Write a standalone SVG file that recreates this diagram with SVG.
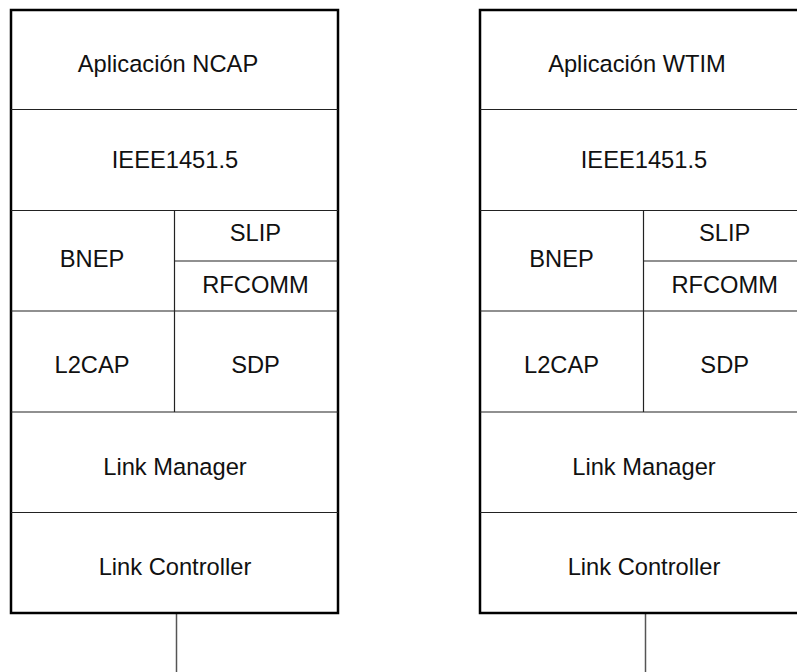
<svg xmlns="http://www.w3.org/2000/svg" width="797" height="672" viewBox="0 0 797 672">
<style>
.outer{fill:#fff;stroke:#000;stroke-width:2.5}
.div{stroke:#222;stroke-width:1.2;fill:none}
.lbl{font-family:"Liberation Sans",Arial,sans-serif;font-size:23.7px;fill:#111;text-anchor:middle}
.conn{stroke:#555;stroke-width:1.5;fill:none}
</style>
<g id="connectors">
<line class="conn" x1="176.5" y1="613" x2="176.5" y2="672"/>
<line class="conn" x1="645.5" y1="613" x2="645.5" y2="672"/>
</g>
<g id="stack-ncap">
<rect class="outer" x="11" y="10" width="327" height="603"/>
<line class="div" x1="11" y1="109.5" x2="338" y2="109.5"/>
<line class="div" x1="11" y1="210.5" x2="338" y2="210.5"/>
<line class="div" x1="174.5" y1="261" x2="338" y2="261"/>
<line class="div" x1="11" y1="311" x2="338" y2="311"/>
<line class="div" x1="11" y1="412" x2="338" y2="412"/>
<line class="div" x1="11" y1="512.5" x2="338" y2="512.5"/>
<line class="div" x1="174.5" y1="210.5" x2="174.5" y2="412"/>
<g id="ncap-app"><text class="lbl" x="168" y="72.3">Aplicación NCAP</text></g>
<g id="ncap-ieee"><text class="lbl" x="175" y="167.7">IEEE1451.5</text></g>
<g id="ncap-bnep"><text class="lbl" x="92" y="266.7">BNEP</text></g>
<g id="ncap-slip"><text class="lbl" x="255.5" y="240.7">SLIP</text></g>
<g id="ncap-rfcomm"><text class="lbl" x="255.5" y="292.7">RFCOMM</text></g>
<g id="ncap-l2cap"><text class="lbl" x="92" y="373.3">L2CAP</text></g>
<g id="ncap-sdp"><text class="lbl" x="255.5" y="373.3">SDP</text></g>
<g id="ncap-lm"><text class="lbl" x="175" y="475">Link Manager</text></g>
<g id="ncap-lc"><text class="lbl" x="175" y="575">Link Controller</text></g>
</g>
<g id="stack-wtim">
<rect class="outer" x="480" y="10" width="327" height="603"/>
<line class="div" x1="480" y1="109.5" x2="807" y2="109.5"/>
<line class="div" x1="480" y1="210.5" x2="807" y2="210.5"/>
<line class="div" x1="643.5" y1="261" x2="807" y2="261"/>
<line class="div" x1="480" y1="311" x2="807" y2="311"/>
<line class="div" x1="480" y1="412" x2="807" y2="412"/>
<line class="div" x1="480" y1="512.5" x2="807" y2="512.5"/>
<line class="div" x1="643.5" y1="210.5" x2="643.5" y2="412"/>
<g id="wtim-app"><text class="lbl" x="637" y="72.3">Aplicación WTIM</text></g>
<g id="wtim-ieee"><text class="lbl" x="644" y="167.7">IEEE1451.5</text></g>
<g id="wtim-bnep"><text class="lbl" x="561.5" y="266.7">BNEP</text></g>
<g id="wtim-slip"><text class="lbl" x="724.7" y="240.7">SLIP</text></g>
<g id="wtim-rfcomm"><text class="lbl" x="724.7" y="292.7">RFCOMM</text></g>
<g id="wtim-l2cap"><text class="lbl" x="561.5" y="373.3">L2CAP</text></g>
<g id="wtim-sdp"><text class="lbl" x="724.7" y="373.3">SDP</text></g>
<g id="wtim-lm"><text class="lbl" x="644" y="475">Link Manager</text></g>
<g id="wtim-lc"><text class="lbl" x="644" y="575">Link Controller</text></g>
</g>
</svg>
